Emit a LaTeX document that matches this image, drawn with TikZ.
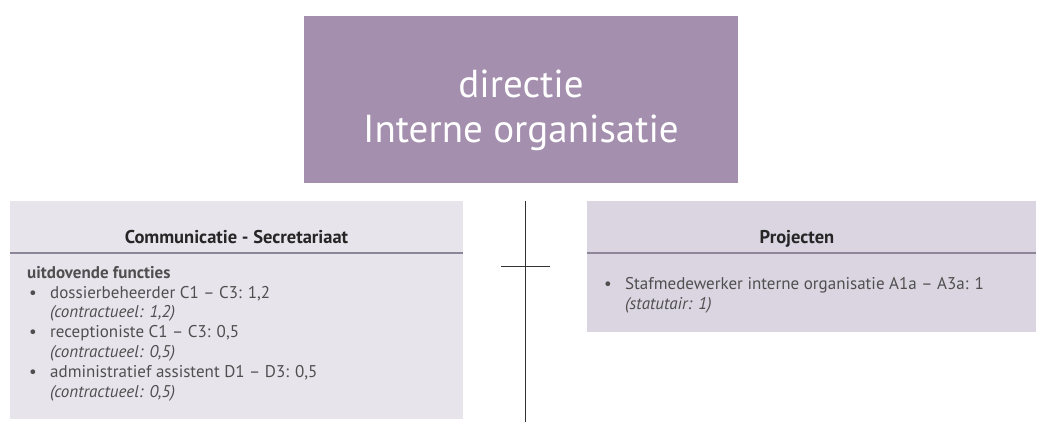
\documentclass[tikz,border=0pt]{standalone}
\usepackage{fontspec}
\setmainfont{PT Sans}
\usetikzlibrary{positioning}
\definecolor{dirfill}{HTML}{A48FAE}
\definecolor{leftfill}{HTML}{E8E4EC}
\definecolor{rightfill}{HTML}{DBD5E2}
\definecolor{txtgrey}{HTML}{4F4F4F}
\definecolor{rulegrey}{HTML}{8E8698}
\newcommand{\bul}[1]{\makebox[23pt][l]{\hspace{2pt}\textbullet}#1}
\newcommand{\sub}[1]{\hspace{23pt}\textit{#1}}
\begin{document}
\begin{tikzpicture}[x=1pt,y=-1pt,
  dirbox/.style={fill=dirfill,text=white,inner sep=0pt,align=center,font=\fontsize{39}{45}\selectfont},
  headbox/.style={inner sep=0pt,anchor=base,font=\fontsize{18.5}{20}\selectfont\bfseries,text=black!85},
  bodytext/.style={inner sep=0pt,align=left,anchor=base west,text=txtgrey,font=\fontsize{17}{19.8}\selectfont},
  hline/.style={rulegrey,line width=1.2pt},
  orgline/.style={black!80,line width=0.9pt}]
\useasboundingbox (0,0) rectangle (1038,422);
% directie
\fill[dirfill] (304,16) rectangle (738,183);
\node[dirbox] (dir) at (521,110) {directie\\Interne organisatie};
% communicatie - secretariaat
\fill[leftfill] (10,201) rectangle (463,419);
\draw[hline] (10,253) -- (463,253);
\node[headbox] (comm) at (236.5,243) {Communicatie - Secretariaat};
\node[bodytext] (commbody) at (27,397) {\textbf{uitdovende functies}\\
  \bul{dossierbeheerder C1 -- C3: 1,2}\\
  \sub{(contractueel: 1,2)}\\
  \bul{receptioniste C1 -- C3: 0,5}\\
  \sub{(contractueel: 0,5)}\\
  \bul{administratief assistent D1 -- D3: 0,5}\\
  \sub{(contractueel: 0,5)}};
% projecten
\fill[rightfill] (587,201) rectangle (1036,332);
\draw[hline] (587,253) -- (1036,253);
\node[headbox] (proj) at (797,243) {Projecten};
\node[bodytext] (projbody) at (602,309) {\bul{Stafmedewerker interne organisatie A1a -- A3a: 1}\\
  \sub{(statutair: 1)}};
% lijnen
\coordinate (top) at (525,201);
\coordinate (bottom) at (525,422);
\coordinate (tickl) at (501,266);
\coordinate (tickr) at (550,266);
\draw[orgline] (top) -- (bottom);
\draw[orgline] (tickl) -- (tickr);
\end{tikzpicture}
\end{document}
